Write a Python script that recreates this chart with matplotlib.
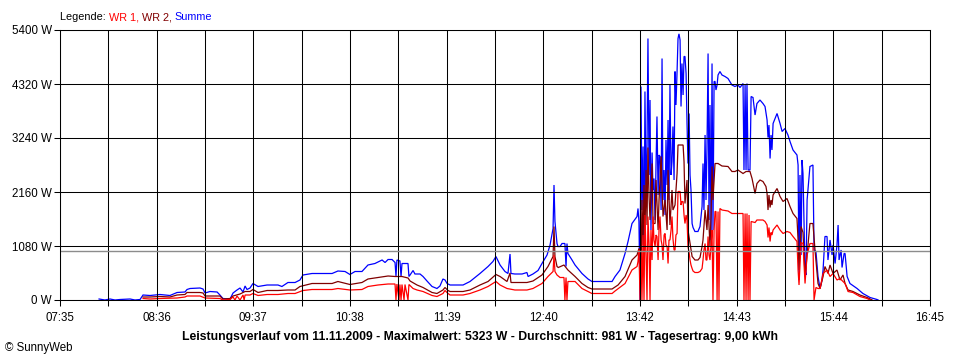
import matplotlib
matplotlib.use("Agg")
import matplotlib.pyplot as plt
import numpy as np

# ---------------- data (time = minutes since midnight, power in W) ----------------
x_ticklabels = ["07:35", "08:36", "09:37", "10:38", "11:39", "12:40",
                "13:42", "14:43", "15:44", "16:45"]
y_ticks_w = [0, 1080, 2160, 3240, 4320, 5400]
average_w = 981
title_txt = ("Leistungsverlauf vom 11.11.2009 - Maximalwert: 5323 W - "
             "Durchschnitt: 981 W - Tagesertrag: 9,00 kWh")

summe = [
    (479.7, 20), (483.4, 0), (486.6, 20), (489.8, 0), (492.9, 10), (499.3, 20),
    (502.4, 0), (505.6, 10), (507.5, 100), (511.9, 90), (518.2, 110), (524.5, 90),
    (529.0, 150), (534.0, 160), (535.3, 210), (537.2, 230), (543.5, 240), (545.4, 220),
    (546.7, 140), (549.8, 170), (554.3, 160), (556.1, 100), (558.0, 30), (562.5, 20),
    (564.4, 140), (566.9, 200), (568.8, 240), (570.7, 160), (572.0, 280), (573.2, 210),
    (575.1, 240), (577.0, 330), (580.2, 270), (585.9, 300), (592.8, 300), (595.3, 270),
    (599.1, 350), (603.6, 350), (606.7, 400), (608.6, 500), (614.3, 530), (627.0, 530),
    (630.7, 580), (635.2, 570), (638.3, 510), (641.5, 570), (645.9, 570), (649.7, 700),
    (654.1, 730), (658.6, 800), (660.5, 750), (662.4, 810), (664.9, 810), (666.8, 750),
    (667.4, 480), (668.0, 800), (669.9, 780), (670.6, 470), (671.2, 730), (675.0, 730),
    (675.6, 470), (676.3, 500), (678.2, 590), (679.4, 520), (682.6, 520), (684.5, 470),
    (687.0, 380), (690.2, 270), (693.3, 230), (695.2, 280), (697.1, 420), (698.4, 400),
    (699.7, 330), (701.6, 300), (709.8, 300), (714.2, 370), (720.5, 530), (725.6, 670),
    (728.7, 770), (730.6, 870), (733.2, 700), (736.3, 570), (738.2, 530), (739.5, 920),
    (740.1, 530), (742.6, 520), (747.1, 520), (750.2, 550), (750.9, 470), (754.0, 520),
    (757.2, 590), (759.7, 730), (762.9, 900), (764.8, 1100), (766.7, 1430), (767.3, 2300),
    (767.9, 1570), (769.2, 1130), (769.8, 1070), (771.1, 1070), (772.4, 1130), (774.2, 1130),
    (774.9, 670), (775.5, 1130), (776.1, 930), (778.7, 800), (780.6, 700), (785.0, 530),
    (788.8, 420), (791.3, 370), (804.0, 370), (805.9, 470), (809.0, 600), (812.2, 930),
    (814.1, 1170), (816.6, 1530), (819.8, 1670), (820.4, 1830), (821.0, 1570),
    (821.7, 0), (822.3, 4270), (822.9, 1800), (823.6, 3070), (824.2, 600), (824.8, 4170),
    (825.5, 1900), (826.1, 3100), (826.7, 5230), (827.4, 2500), (828.0, 4000), (828.6, 1400),
    (829.3, 2950), (829.9, 2200), (830.5, 2430), (831.2, 1600), (831.8, 2700), (832.4, 3670),
    (833.1, 2100), (833.7, 2900), (834.3, 2870), (835.0, 1800), (835.6, 4830), (836.2, 2000),
    (836.9, 2600), (837.5, 1700), (838.1, 3200), (838.8, 2300), (839.4, 3600), (840.0, 2000),
    (840.6, 4300), (841.3, 2500), (841.9, 2770), (842.5, 3470), (843.2, 2400), (843.8, 4570),
    (844.4, 3900), (845.1, 4570), (845.7, 5230), (846.3, 5323), (847.0, 5200), (847.6, 3870),
    (848.2, 4730), (848.9, 4100), (849.5, 4870), (850.1, 4870), (850.8, 4530), (851.4, 3530),
    (852.0, 2730), (852.7, 3730), (853.3, 2500), (853.9, 2200), (854.6, 1530), (855.2, 1450),
    (856.4, 1370), (858.3, 1370), (859.6, 1470), (860.9, 1870), (861.5, 2730), (862.1, 1800),
    (862.8, 3300), (863.4, 2000), (864.0, 3000), (864.7, 4930), (865.3, 1600), (865.9, 3900),
    (866.6, 1200), (867.2, 4730), (867.8, 1400), (868.5, 4370), (869.1, 4370), (869.7, 4200),
    (870.4, 4300), (871.0, 4500), (872.2, 4570), (873.5, 4500), (875.4, 4470), (877.3, 4430),
    (879.8, 4300), (881.7, 4270), (883.6, 4300), (884.9, 4250), (886.8, 4330), (887.4, 2600),
    (888.1, 4300), (888.7, 2600), (889.3, 4330), (890.0, 2600), (891.2, 2600), (891.9, 4070),
    (893.1, 4050), (894.4, 3700), (895.6, 3930), (897.5, 4000), (899.4, 3930), (900.7, 3870),
    (902.0, 3600), (902.6, 3250), (903.2, 3500), (903.9, 2830), (904.5, 3300), (905.1, 3000),
    (905.8, 3530), (908.3, 3730), (910.2, 3530), (911.5, 3370), (913.3, 3430), (915.2, 3300),
    (916.5, 3170), (918.4, 3000), (920.9, 2900), (921.6, 2700), (922.2, 400), (922.8, 2500),
    (923.5, 900), (924.1, 2800), (924.7, 2530), (926.0, 600), (926.6, 500), (927.3, 2000),
    (929.1, 2670), (931.0, 2700), (931.7, 1000), (932.9, 970), (934.2, 470), (935.5, 230),
    (936.7, 400), (937.4, 600), (938.6, 1270), (939.9, 1270), (940.5, 800), (941.8, 1200),
    (943.1, 900), (943.7, 1100), (945.0, 730), (946.2, 1100), (946.9, 1500), (947.5, 800),
    (948.8, 1000), (949.4, 650), (950.7, 930), (951.3, 930), (952.6, 470), (954.4, 330),
    (958.9, 230), (962.6, 130), (967.1, 50), (971.5, 10), (972.2, 0),
]

wr2 = [
    (507.5, 60), (511.9, 60), (518.2, 70), (524.5, 60), (529.0, 100), (534.0, 110),
    (535.3, 150), (543.5, 150), (545.4, 140), (546.7, 80), (556.1, 80), (558.0, 20),
    (562.5, 30), (564.4, 80), (568.8, 120), (572.0, 170), (575.1, 170), (577.0, 210),
    (580.2, 150), (585.9, 190), (592.8, 190), (599.1, 200), (603.6, 200), (606.7, 270),
    (614.3, 330), (627.0, 330), (630.7, 370), (638.3, 310), (645.9, 350), (649.7, 420),
    (656.0, 450), (662.4, 480), (666.8, 470), (671.2, 470), (675.0, 440), (676.3, 380),
    (680.7, 300), (684.5, 250), (690.2, 150), (693.3, 130), (697.1, 200), (698.4, 250),
    (700.3, 190), (701.6, 170), (709.8, 170), (714.2, 200), (720.5, 300), (725.6, 370),
    (730.6, 510), (733.2, 470), (737.6, 370), (739.5, 540), (740.1, 350), (750.2, 350),
    (754.0, 380), (759.7, 500), (763.5, 670), (766.7, 870), (767.3, 1470), (767.9, 870),
    (769.2, 670), (770.0, 650), (773.6, 700), (776.1, 600), (780.6, 470), (785.0, 330),
    (788.8, 250), (791.3, 220), (804.0, 220), (807.8, 300), (812.2, 470), (816.6, 800),
    (819.8, 900), (821.0, 1030),
    (821.7, 1000), (822.3, 400), (822.9, 2000), (823.6, 1100), (824.2, 2300), (824.8, 1300),
    (825.5, 2600), (826.1, 1500), (826.7, 3050), (827.4, 2070), (828.0, 1600), (829.3, 2730),
    (829.9, 1530), (831.2, 1530), (831.8, 2400), (833.1, 1400), (833.7, 2000), (835.0, 2870),
    (836.2, 1670), (837.5, 2000), (838.8, 1400), (839.4, 2600), (840.6, 1500), (841.9, 2200),
    (842.5, 1800), (843.8, 1900), (845.1, 2530), (845.7, 3100), (848.9, 3100), (849.5, 2770),
    (850.1, 1930), (851.4, 2400), (852.0, 1400), (853.3, 1130), (854.6, 870), (856.4, 800),
    (858.3, 800), (859.6, 850), (860.9, 1070), (861.5, 1200), (862.8, 1800), (864.0, 1400),
    (864.7, 1900), (865.9, 1070), (866.6, 1700), (867.2, 2670), (867.8, 2000), (869.1, 2730),
    (871.0, 2730), (873.5, 2680), (877.3, 2670), (879.8, 2570), (881.7, 2570),
    (883.6, 2600), (886.8, 2530), (888.7, 2570), (891.2, 2570), (892.5, 2430), (894.4, 2130),
    (895.6, 2330), (897.5, 2400), (899.4, 2370), (901.3, 2270), (902.0, 2130), (902.6, 1800),
    (903.2, 2100), (903.9, 1850), (904.5, 2000), (905.1, 1900), (905.8, 2100), (908.3, 2230),
    (910.2, 2070), (912.1, 1970), (914.6, 2030), (916.5, 1870), (918.4, 1730), (920.9, 1630),
    (921.6, 1200), (922.2, 600), (923.5, 1470), (924.7, 1350), (926.0, 470), (927.3, 900),
    (929.1, 1530), (931.0, 1530), (932.3, 1000), (934.2, 330), (935.5, 230), (937.4, 470),
    (938.6, 670), (940.5, 530), (941.8, 700), (943.7, 530), (946.2, 600), (948.1, 400),
    (950.0, 500), (951.3, 330), (953.2, 200), (956.3, 170), (960.7, 100), (965.2, 50),
    (968.4, 0),
]

wr1 = [
    (507.5, 30), (511.9, 20), (518.2, 30), (529.0, 40), (534.0, 60), (535.3, 80),
    (543.5, 80), (546.7, 40), (556.1, 30), (558.0, 0), (562.5, 10), (564.4, 60),
    (565.6, 0), (566.9, 80), (568.8, 0), (570.7, 100), (571.4, 0), (572.0, 100),
    (575.1, 100), (577.0, 130), (580.2, 90), (585.9, 110), (592.8, 110), (599.1, 130),
    (603.6, 130), (608.6, 190), (614.3, 210), (627.0, 210), (630.7, 230), (638.3, 200),
    (645.9, 210), (649.7, 270), (656.0, 300), (662.4, 320), (666.8, 320), (667.4, 0),
    (668.0, 320), (669.3, 0), (669.9, 310), (670.6, 0), (671.2, 310), (672.5, 0),
    (673.1, 310), (675.0, 0), (675.6, 310), (678.2, 230), (680.7, 200), (684.5, 170),
    (690.2, 90), (693.3, 70), (697.1, 130), (698.4, 190), (700.3, 130), (701.6, 100),
    (709.8, 100), (714.2, 130), (720.5, 200), (725.6, 270), (730.6, 370), (733.2, 300),
    (737.6, 230), (742.6, 200), (750.2, 200), (754.0, 230), (759.7, 330), (763.5, 470),
    (766.7, 570), (767.3, 900), (767.9, 570), (769.2, 500), (771.1, 450), (773.6, 450),
    (774.2, 0), (774.9, 450), (775.5, 0), (776.1, 370), (780.6, 370), (785.0, 230),
    (788.8, 170), (791.3, 130), (804.0, 130), (805.9, 180), (812.2, 330), (816.6, 600),
    (819.8, 670), (820.4, 770), (821.0, 1000),
    (821.7, 0), (822.3, 1000), (822.9, 0), (823.6, 1300), (824.2, 0), (824.8, 1700),
    (825.5, 900), (826.1, 0), (826.7, 1670), (827.4, 1100), (828.0, 0), (828.6, 1400),
    (829.3, 800), (829.9, 1670), (830.5, 1200), (831.2, 1070), (831.8, 1300), (832.4, 1270),
    (833.1, 800), (833.7, 1400), (834.3, 1670), (835.0, 1200), (835.6, 1100), (836.2, 800),
    (836.9, 1300), (837.5, 1330), (838.1, 1100), (838.8, 1070), (839.4, 730), (840.0, 1200),
    (840.6, 1200), (841.3, 1400), (841.9, 1670), (842.5, 1230), (843.2, 1000), (843.8, 1000),
    (844.4, 1300), (845.1, 1330), (845.7, 2170), (847.0, 2170), (847.6, 1900), (848.2, 1970),
    (848.9, 1970), (849.5, 1700), (850.1, 1530), (850.8, 1700), (851.4, 1600), (852.0, 1070),
    (852.7, 950), (853.3, 800), (853.9, 700), (854.6, 630), (855.2, 580), (856.4, 550),
    (858.3, 550), (859.6, 570), (860.9, 630), (861.5, 800), (862.1, 1000), (862.8, 1130),
    (863.4, 800), (864.0, 800), (864.7, 1270), (865.3, 900), (865.9, 800), (866.6, 1100),
    (867.2, 1400), (867.8, 0), (868.5, 1400), (869.1, 1770), (869.7, 1770), (870.4, 0),
    (871.0, 1770), (871.6, 0), (872.2, 1830), (873.5, 1800), (877.3, 1780), (879.8, 1730),
    (881.7, 1730), (883.6, 1730), (886.8, 1730), (887.4, 0), (888.1, 1730), (888.7, 0),
    (889.3, 1730), (890.0, 0), (890.6, 1700), (891.2, 0), (891.9, 1570), (894.4, 1550),
    (895.6, 1600), (899.4, 1600), (900.7, 1570), (902.0, 1500), (902.6, 1250), (903.2, 1450),
    (903.9, 1170), (904.5, 1350), (905.1, 1300), (905.8, 1400), (908.3, 1500), (910.2, 1400),
    (912.1, 1330), (914.6, 1370), (916.5, 1350), (918.4, 1270), (920.9, 1170), (921.6, 600),
    (922.2, 300), (923.5, 1150), (924.7, 1130), (926.0, 330), (927.3, 900), (929.1, 1130),
    (931.0, 1130), (931.7, 0), (932.9, 250), (934.2, 230), (935.5, 230), (937.4, 530),
    (939.9, 600), (941.8, 470), (943.7, 530), (946.2, 400), (948.1, 430), (951.3, 330),
    (953.2, 170), (956.3, 150), (960.7, 70), (965.2, 30), (967.1, 0),
]

# ---------------- figure ----------------
FONT = "Liberation Sans"
plt.rcParams["font.family"] = [FONT, "DejaVu Sans"]

W, H = 960, 360
fig = plt.figure(figsize=(W / 100, H / 100), dpi=100)
fig.patch.set_facecolor("white")

L, R, T, B = 60, 930, 30, 300
ax = fig.add_axes([L / W, 1 - B / H, (R - L) / W, (B - T) / H])

t0, t1 = 455, 1005   # 07:35 .. 16:45
ax.set_xlim(t0, t1)
ax.set_ylim(0, 5400)

for series, col in ((summe, "#0000FF"), (wr2, "#800000"), (wr1, "#FF0000")):
    ts = np.array([p[0] for p in series])
    vs = np.array([p[1] for p in series])
    ax.plot(ts, vs, color=col, lw=0.9, zorder=2, solid_joinstyle="miter")

ax.axhline(average_w, color="#8C8C8C", lw=1.0, zorder=3)

# ticks & grid
xt = np.linspace(t0, t1, 19)
ax.set_xticks(xt)
labels = []
for i in range(19):
    labels.append(x_ticklabels[i // 2] if i % 2 == 0 else "")
ax.set_xticklabels(labels)
ax.set_yticks(y_ticks_w)
ax.set_yticklabels([f"{v} W" for v in y_ticks_w])
ax.tick_params(axis="both", length=4, width=0.75, color="black",
               labelsize=8.3, pad=2)
ax.tick_params(axis="x", pad=4.5)
ax.grid(True, color="black", lw=0.75)
ax.set_axisbelow(False)
for sp in ax.spines.values():
    sp.set_color("black")
    sp.set_linewidth(0.75)
    sp.set_zorder(4)

# legend text (multi-coloured)
fig.canvas.draw()
renderer = fig.canvas.get_renderer()
x = L / W
parts = [("Legende: ", "black"), ("WR 1, ", "#FF0000"), ("WR 2, ", "#800000"), ("Summe", "#0000FF")]
for txt, col in parts:
    tt = fig.text(x, 1 - 17 / H, txt, color=col, fontsize=7.8, va="center", ha="left")
    bb = tt.get_window_extent(renderer)
    x = bb.x1 / W

# title (fit width)
title = fig.text(480 / W, 1 - 337 / H, title_txt, fontsize=8.5, fontweight="bold",
                 ha="center", va="center")
bb = title.get_window_extent(renderer)
title.set_fontsize(8.5 * 594 / bb.width)

fig.text(5 / W, 1 - 348 / H, "\u00a9 SunnyWeb", fontsize=8.3, ha="left", va="center")

fig.savefig("out.png", dpi=100)
